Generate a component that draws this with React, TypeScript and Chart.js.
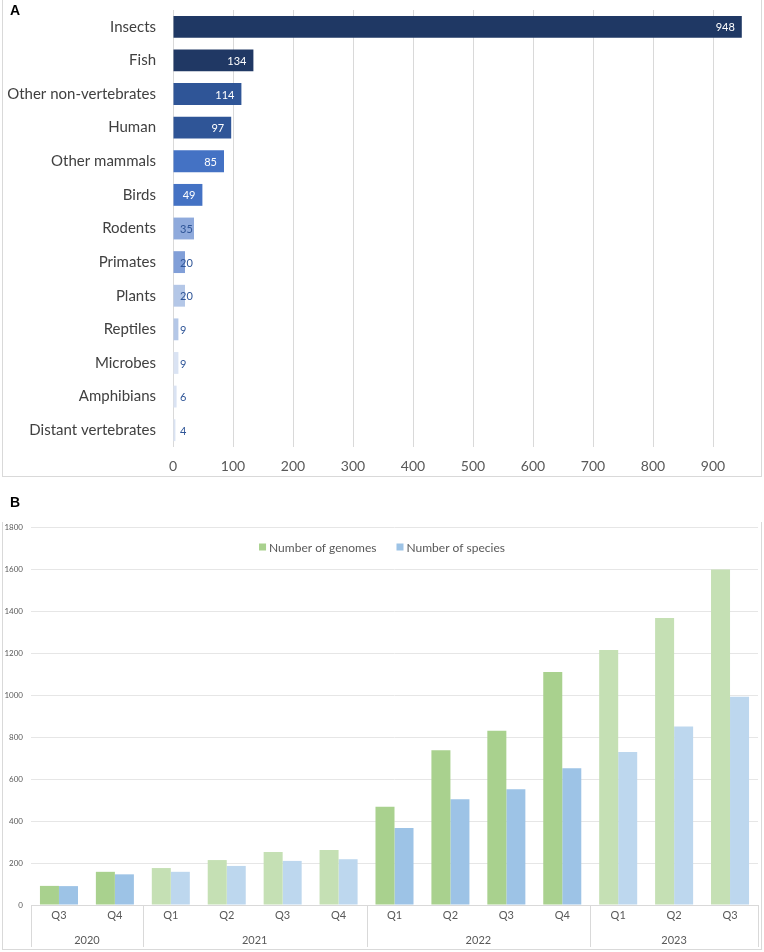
import React, { useEffect, useRef } from "react";
import { Chart, registerables } from "chart.js";

Chart.register(...registerables);

// ---------- Panel A data ----------
const taxa = [
  "Insects",
  "Fish",
  "Other non-vertebrates",
  "Human",
  "Other mammals",
  "Birds",
  "Rodents",
  "Primates",
  "Plants",
  "Reptiles",
  "Microbes",
  "Amphibians",
  "Distant vertebrates",
];
const genomeCounts = [948, 134, 114, 97, 85, 49, 35, 20, 20, 9, 9, 6, 4];
const taxaColors = [
  "#1F3864",
  "#203864",
  "#2F5597",
  "#2F5597",
  "#4472C4",
  "#4472C4",
  "#8FAADC",
  "#819FD8",
  "#B4C7E7",
  "#B4C7E7",
  "#DAE3F3",
  "#DAE3F3",
  "#DAE3F3",
];

// ---------- Panel B data ----------
const quarters = ["Q3", "Q4", "Q1", "Q2", "Q3", "Q4", "Q1", "Q2", "Q3", "Q4", "Q1", "Q2", "Q3"];
const years = ["2020", "2021", "2022", "2023"];
const quartersPerYear = [2, 4, 4, 3];
const numGenomes = [91, 158, 176, 214, 252, 262, 468, 737, 830, 1110, 1214, 1367, 1598];
const numSpecies = [90, 146, 158, 186, 210, 218, 367, 503, 551, 651, 729, 850, 992];
const genomeColors = ["#A9D18E", "#C5E0B4"];
const speciesColors = ["#9DC3E6", "#BDD7EE"];

const FONT = "Lato, 'Open Sans', sans-serif";

function yearIndexOf(i: number): number {
  let acc = 0;
  for (let y = 0; y < quartersPerYear.length; y++) {
    acc += quartersPerYear[y];
    if (i < acc) return y;
  }
  return quartersPerYear.length - 1;
}

const barLabelPlugin = {
  id: "barLabels",
  afterDatasetsDraw(chart: any) {
    const ctx = chart.ctx;
    const meta = chart.getDatasetMeta(0);
    const xScale = chart.scales.x;
    const zeroX = xScale.getPixelForValue(0);
    ctx.save();
    ctx.font = `11px ${FONT}`;
    ctx.textBaseline = "middle";
    ctx.textAlign = "right";
    meta.data.forEach((bar: any, i: number) => {
      const v = genomeCounts[i];
      const txt = String(v);
      const w = ctx.measureText(txt).width;
      const right = Math.max(bar.x - 7, zeroX + 7 + w);
      ctx.fillStyle = v >= 49 ? "#FFFFFF" : "#2F5597";
      ctx.fillText(txt, right, bar.y + 1);
    });
    ctx.restore();
  },
};

const yearAxisPlugin = {
  id: "yearAxis",
  afterDraw(chart: any) {
    const ctx = chart.ctx;
    const xs = chart.scales.x;
    const top = xs.top;
    const bottom = chart.height - 5;
    ctx.save();
    ctx.strokeStyle = "#D9D9D9";
    ctx.lineWidth = 1;
    let k = 0;
    const bounds = [0];
    quartersPerYear.forEach((q) => {
      k += q;
      bounds.push(k);
    });
    bounds.forEach((b) => {
      const x = Math.round(xs.getPixelForValue(b - 0.5)) + 0.5;
      ctx.beginPath();
      ctx.moveTo(x, top);
      ctx.lineTo(x, bottom);
      ctx.stroke();
    });
    ctx.fillStyle = "#595959";
    ctx.font = `11px ${FONT}`;
    ctx.textAlign = "center";
    ctx.textBaseline = "middle";
    years.forEach((y, i) => {
      const a = xs.getPixelForValue(bounds[i] - 0.5);
      const b = xs.getPixelForValue(bounds[i + 1] - 0.5);
      ctx.fillText(y, (a + b) / 2, top + 35);
    });
    // legend
    const items = chart.data.datasets.map((d: any) => ({ label: d.label, color: d.legendColor }));
    ctx.font = `12px ${FONT}`;
    const box = 7;
    const gap = 3;
    const itemGap = 20;
    const widths = items.map((it: any) => box + gap + ctx.measureText(it.label).width);
    const total = widths.reduce((a: number, b: number) => a + b, 0) + itemGap * (items.length - 1);
    let x = chart.width / 2 - total / 2;
    const ly = chart.chartArea.top + 20;
    ctx.textAlign = "left";
    items.forEach((it: any, i: number) => {
      ctx.fillStyle = it.color;
      ctx.fillRect(x, ly - box / 2, box, box);
      ctx.fillStyle = "#595959";
      ctx.fillText(it.label, x + box + gap, ly + 1);
      x += widths[i] + itemGap;
    });
    ctx.restore();
  },
};

function ChartA() {
  const ref = useRef<HTMLCanvasElement>(null);
  useEffect(() => {
    if (!ref.current) return;
    const chart = new Chart(ref.current, {
      type: "bar",
      data: {
        labels: taxa,
        datasets: [
          {
            label: "Genomes",
            data: genomeCounts,
            backgroundColor: taxaColors,
            categoryPercentage: 0.65,
            barPercentage: 1,
          },
        ],
      },
      options: {
        indexAxis: "y",
        animation: false,
        responsive: false,
        devicePixelRatio: 1,
        layout: { padding: { top: 10, right: 21, left: 0, bottom: 0 } },
        plugins: { legend: { display: false }, tooltip: { enabled: false } },
        scales: {
          x: {
            type: "linear",
            min: 0,
            max: 950,
            ticks: {
              stepSize: 100,
              includeBounds: false,
              color: "#595959",
              font: { family: FONT, size: 14 },
              padding: 11,
            },
            grid: { color: "#D9D9D9", drawTicks: false },
            border: { display: false },
            afterFit: (s: any) => {
              s.height = 31;
            },
          },
          y: {
            ticks: { color: "#404040", font: { family: FONT, size: 15 }, padding: 17 },
            grid: { display: false, drawTicks: false },
            border: { display: false },
            afterFit: (s: any) => {
              s.width = 173;
              s.paddingTop = 0;
              s.paddingBottom = 0;
            },
          },
        },
      },
      plugins: [barLabelPlugin],
    } as any);
    return () => chart.destroy();
  }, []);
  return <canvas ref={ref} width={764} height={478} style={{ display: "block", width: 764, height: 478 }} />;
}

function ChartB() {
  const ref = useRef<HTMLCanvasElement>(null);
  useEffect(() => {
    if (!ref.current) return;
    const chart = new Chart(ref.current, {
      type: "bar",
      data: {
        labels: quarters,
        datasets: [
          {
            label: "Number of genomes",
            data: numGenomes,
            backgroundColor: quarters.map((_, i) => genomeColors[yearIndexOf(i) % 2]),
            legendColor: genomeColors[0],
            categoryPercentage: 0.68,
            barPercentage: 1,
          },
          {
            label: "Number of species",
            data: numSpecies,
            backgroundColor: quarters.map((_, i) => speciesColors[yearIndexOf(i) % 2]),
            legendColor: speciesColors[0],
            categoryPercentage: 0.68,
            barPercentage: 1,
          },
        ],
      },
      options: {
        animation: false,
        responsive: false,
        devicePixelRatio: 1,
        layout: { padding: { top: 47, right: 6, left: 0, bottom: 0 } },
        plugins: { legend: { display: false }, tooltip: { enabled: false } },
        scales: {
          x: {
            ticks: { color: "#595959", font: { family: FONT, size: 11 }, padding: 4 },
            grid: { display: false, drawTicks: false },
            border: { display: true, color: "#D9D9D9" },
            afterFit: (s: any) => {
              s.height = 47;
            },
          },
          y: {
            min: 0,
            max: 1800,
            ticks: {
              stepSize: 200,
              color: "#595959",
              font: { family: FONT, size: 8 },
              padding: 8,
              callback: (v: any) => String(v),
            },
            grid: { color: "#E6E6E6", drawTicks: false },
            border: { display: false },
            afterFit: (s: any) => {
              s.width = 31;
            },
          },
        },
      },
      plugins: [yearAxisPlugin],
    } as any);
    return () => chart.destroy();
  }, []);
  return <canvas ref={ref} width={764} height={472} style={{ display: "block", width: 764, height: 472 }} />;
}

export default function App() {
  const frame = "1px solid #D9D9D9";
  const panelLabel: React.CSSProperties = {
    position: "absolute",
    left: 10,
    fontFamily: "'Liberation Sans', Arial, sans-serif",
    fontWeight: 700,
    fontSize: 14,
    lineHeight: "14px",
    color: "#000",
  };
  return (
    <div style={{ position: "absolute", left: 0, top: 0, width: 764, height: 952, background: "#fff", overflow: "hidden" }}>
      <div style={{ position: "absolute", left: 2, top: -1, width: 758, height: 477, borderLeft: frame, borderRight: frame, borderBottom: frame }} />
      <div style={{ position: "absolute", left: 2, top: 522, width: 758, height: 427, borderLeft: frame, borderRight: frame, borderBottom: frame }} />
      <div style={{ position: "absolute", left: 0, top: 0 }}>
        <ChartA />
      </div>
      <div style={{ position: "absolute", left: 0, top: 480 }}>
        <ChartB />
      </div>
      <div style={{ ...panelLabel, top: 3 }}>A</div>
      <div style={{ ...panelLabel, top: 495 }}>B</div>
    </div>
  );
}
